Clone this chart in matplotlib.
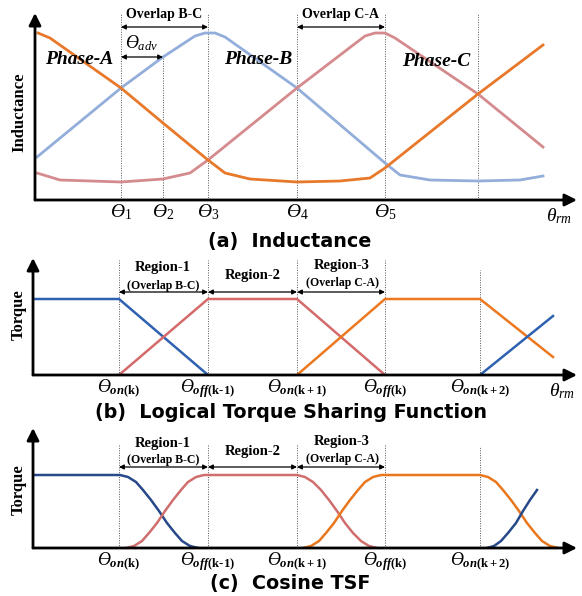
import matplotlib
matplotlib.use("Agg")
import matplotlib.pyplot as plt

plt.rcParams['mathtext.fontset'] = 'custom'
plt.rcParams['mathtext.rm'] = 'Liberation Serif'
plt.rcParams['mathtext.it'] = 'Liberation Serif:italic'
plt.rcParams['mathtext.bf'] = 'Liberation Serif:bold'
plt.rcParams['mathtext.bfit'] = 'Liberation Serif:bold:italic'

SERIF = 'Liberation Serif'

# ---- (a) inductance profiles ----
a_ticks = [86, 128, 173, 262, 350]
a_ticklabels = [r'$\mathit{Ө}_{\mathit{1}}$', r'$\mathit{Ө}_{\mathit{2}}$', r'$\mathit{Ө}_{\mathit{3}}$',
                r'$\mathit{Ө}_{\mathit{4}}$', r'$\mathit{Ө}_{\mathit{5}}$']
a_extra_line = 443
ind_a_x = [3, 15, 86, 128, 173, 190, 215, 262, 305, 335, 350, 443, 508]
ind_a_y = [167, 162, 112, 77, 40, 27, 21, 18, 19, 22, 32, 106, 155]
ind_b_x = [2, 86, 128, 160, 170, 180, 190, 262, 350, 365, 395, 443, 485, 508]
ind_b_y = [43, 112, 143, 164, 167, 167, 163, 112, 37, 25, 20, 19, 20, 24]
ind_c_x = [2, 25, 86, 128, 155, 173, 262, 330, 340, 350, 360, 443, 508]
ind_c_y = [27, 20, 18, 21, 27, 40, 112, 164, 167, 167, 162, 106, 53]

# ---- (b) logical TSF ----
tsf_ticks = [86, 175, 264, 352, 447]
tsf_ticklabels = [r'$\mathit{Ө}_{\mathbfit{on}\mathbf{(k)}}$',
                  r'$\mathit{Ө}_{\mathbfit{off}\mathbf{(k\text{-}1)}}$',
                  r'$\mathit{Ө}_{\mathbfit{on}\mathbf{(k+1)}}$',
                  r'$\mathit{Ө}_{\mathbfit{off}\mathbf{(k)}}$',
                  r'$\mathit{Ө}_{\mathbfit{on}\mathbf{(k+2)}}$']
lin_b1_x = [0, 86, 175]
lin_b1_y = [76, 76, 0]
lin_c_x = [86, 175, 264, 352]
lin_c_y = [0, 76, 76, 0]
lin_a_x = [264, 352, 447, 520]
lin_a_y = [0, 76, 76, 18]
lin_b2_x = [447, 520]
lin_b2_y = [0, 59]

# ---- (c) cosine TSF ----
cos_b1_x = [0, 87, 95, 103, 110, 118, 126, 134, 142, 149, 157, 165]
cos_b1_y = [73, 73, 71, 66, 58, 48, 37, 25, 15, 7, 2, 0]
cos_c_x = [93, 101, 109, 116, 124, 132, 140, 148, 155, 163, 171,
           264, 272, 280, 288, 296, 304, 312, 320, 328, 336, 344]
cos_c_y = [0, 2, 7, 15, 25, 37, 48, 58, 66, 71, 73,
           73, 71, 66, 58, 48, 37, 25, 15, 7, 2, 0]
cos_a_x = [270, 278, 286, 293, 301, 309, 317, 325, 332, 340, 348,
           447, 455, 463, 470, 478, 486, 494, 502, 509, 517, 525]
cos_a_y = [0, 2, 7, 15, 25, 37, 48, 58, 66, 71, 73,
           73, 71, 66, 58, 48, 37, 25, 15, 7, 2, 0]
cos_b2_x = [454, 461, 468, 475, 483, 490, 497, 504]
cos_b2_y = [0, 2, 7, 15, 25, 37, 48, 58]

W, H = 582, 596
fig = plt.figure(figsize=(W / 100, H / 100), dpi=100)


def make_axes(left, right, top, bottom):
    ax = fig.add_axes([left / W, 1 - bottom / H, (right - left) / W, (bottom - top) / H])
    ax.set_xlim(0, right - left)
    ax.set_ylim(0, bottom - top)
    for s in ax.spines.values():
        s.set_visible(False)
    ax.set_yticks([])
    ax.tick_params(axis='x', length=0, pad=2)
    ax.set_facecolor('none')
    # axis arrows
    arr = dict(arrowstyle='-|>', lw=2, color='black', mutation_scale=18, shrinkA=0, shrinkB=0)
    ax.annotate('', xy=(0, 1), xytext=(0, 0), xycoords='axes fraction', arrowprops=arr)
    ax.annotate('', xy=(1, 0), xytext=(0, 0), xycoords='axes fraction', arrowprops=arr)
    return ax


def dim_arrow(ax, x0, x1, y):
    ax.annotate('', xy=(x1, y), xytext=(x0, y),
                arrowprops=dict(arrowstyle='<|-|>', lw=0.9, color='black',
                                mutation_scale=7, shrinkA=0, shrinkB=0))


def vline(ax, x, top):
    ax.plot([x, x], [0, top], ls=(0, (1, 1.5)), lw=0.7, color='#555555', clip_on=False)


bold_serif = dict(family=SERIF, fontweight='bold', ha='center', va='center')
title_kw = dict(fontsize=13.8, fontweight='bold', family='DejaVu Sans', ha='center', va='center')

# ---------------- (a) ----------------
ax = make_axes(35, 577, 13, 200)
for x in a_ticks + [a_extra_line]:
    vline(ax, x, 143 if x == 128 else 187)
ax.plot(ind_b_x, ind_b_y, color='#93AEDB', lw=2)
ax.plot(ind_c_x, ind_c_y, color='#D58B8D', lw=2)
ax.plot(ind_a_x, ind_a_y, color='#E8782A', lw=2)
ax.set_xticks(a_ticks, a_ticklabels, fontsize=14)
ax.text(524, -16, r'$\mathit{θ}_{\mathit{rm}}$', fontsize=14, ha='center', va='center')
ax.text(44, 140, 'Phase-A', fontsize=14, style='italic', **bold_serif)
ax.text(223, 140, 'Phase-B', fontsize=14, style='italic', **bold_serif)
ax.text(401, 138, 'Phase-C', fontsize=14, style='italic', **bold_serif)
ax.text(129, 185, 'Overlap B-C', fontsize=10, **bold_serif)
dim_arrow(ax, 86, 173, 173)
ax.text(107, 157, r'$\mathit{Ө}_{\mathit{adv}}$', fontsize=13, ha='center', va='center')
dim_arrow(ax, 86, 128, 143)
ax.text(306, 185, 'Overlap C-A', fontsize=10, **bold_serif)
dim_arrow(ax, 262, 350, 173)
ax.text(-16, 88, 'Inductance', fontsize=12, rotation=90, **bold_serif)
ax.text(255, -41, '(a)  Inductance', **title_kw)

# ---------------- (b) ----------------
ax = make_axes(33, 577, 258, 375)
for x in tsf_ticks:
    vline(ax, x, 105 if x == 447 else 115)
ax.plot(lin_b1_x, lin_b1_y, color='#2E62B0', lw=1.8)
ax.plot(lin_c_x, lin_c_y, color='#D46A6A', lw=1.8)
ax.plot(lin_a_x, lin_a_y, color='#EC7820', lw=1.8)
ax.plot(lin_b2_x, lin_b2_y, color='#2E62B0', lw=1.8)
ax.set_xticks(tsf_ticks, tsf_ticklabels, fontsize=13)
ax.text(529, -16, r'$\mathit{θ}_{\mathit{rm}}$', fontsize=14, ha='center', va='center')
ax.text(130, 107, 'Region-1', fontsize=10.5, **bold_serif)
ax.text(130, 89, '(Overlap B-C)', fontsize=8.5, **bold_serif)
dim_arrow(ax, 86, 175, 83)
ax.text(220, 99, 'Region-2', fontsize=10.5, **bold_serif)
dim_arrow(ax, 175, 264, 83)
ax.text(309, 110, 'Region-3', fontsize=10.5, **bold_serif)
ax.text(309, 92, '(Overlap C-A)', fontsize=8.5, **bold_serif)
dim_arrow(ax, 264, 352, 83)
ax.text(-14, 60, 'Torque', fontsize=12, rotation=90, **bold_serif)
ax.text(258, -38, '(b)  Logical Torque Sharing Function', **title_kw)

# ---------------- (c) ----------------
ax = make_axes(33, 577, 428, 548)
for x in tsf_ticks:
    vline(ax, x, 101 if x == 447 else 104)
ax.plot(cos_b1_x, cos_b1_y, color='#27498A', lw=1.8)
ax.plot(cos_c_x, cos_c_y, color='#D06E6E', lw=1.8)
ax.plot(cos_a_x, cos_a_y, color='#E8771E', lw=1.8)
ax.plot(cos_b2_x, cos_b2_y, color='#27498A', lw=1.8)
ax.set_xticks(tsf_ticks, tsf_ticklabels, fontsize=13)
ax.text(130, 105, 'Region-1', fontsize=10.5, **bold_serif)
ax.text(130, 88, '(Overlap B-C)', fontsize=8.5, **bold_serif)
dim_arrow(ax, 86, 175, 81)
ax.text(220, 96, 'Region-2', fontsize=10.5, **bold_serif)
dim_arrow(ax, 175, 264, 81)
ax.text(309, 107, 'Region-3', fontsize=10.5, **bold_serif)
ax.text(309, 89, '(Overlap C-A)', fontsize=8.5, **bold_serif)
dim_arrow(ax, 264, 352, 81)
ax.text(-14, 58, 'Torque', fontsize=12, rotation=90, **bold_serif)
ax.text(257, -35, '(c)  Cosine TSF', **title_kw)

fig.savefig('out.png', dpi=100)
